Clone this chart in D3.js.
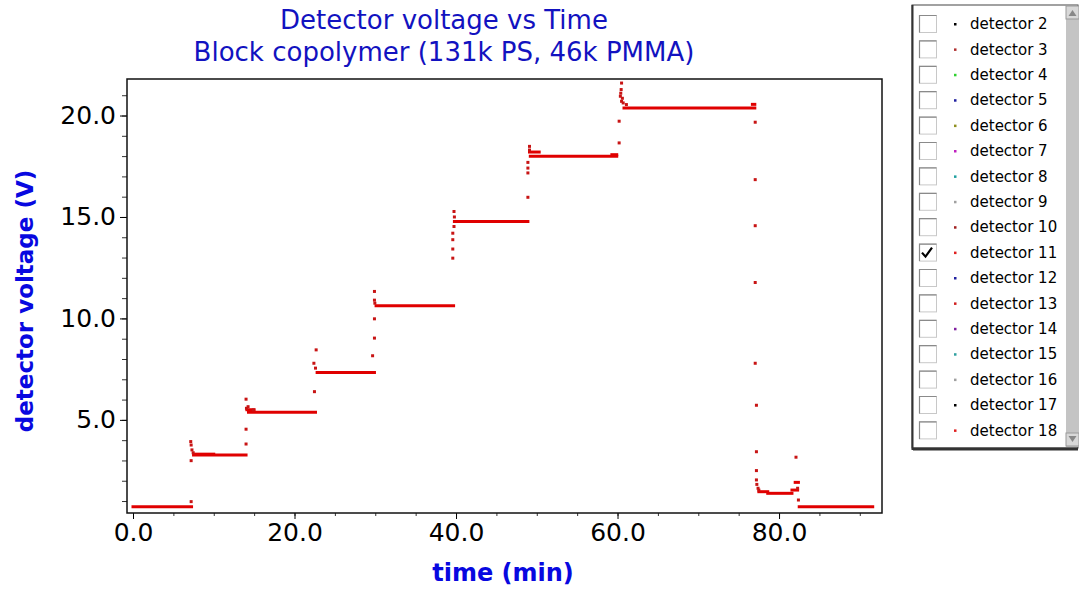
<!DOCTYPE html>
<html>
<head>
<meta charset="utf-8">
<script src="https://cdn.jsdelivr.net/npm/d3@7"></script>
<style>
body { margin: 0; background: #fff; }
svg { display: block; }
</style>
</head>
<body>
<div id="chart"></div>
<script>
// plateaus of detector 11: start time, end time, level (V)
var plateauStart = [0.0, 7.5, 7.6, 14.3, 14.1, 22.8, 30.1, 39.8, 49.2, 49.1, 59.3, 60.8, 76.7, 77.5, 78.6, 81.6, 82.0, 82.5];
var plateauEnd   = [7.25, 14.0, 10.0, 22.6, 15.0, 29.9, 39.7, 48.9, 59.9, 50.3, 59.9, 77.0, 77.0, 78.6, 81.6, 82.3, 82.4, 91.6];
var plateauLevel = [0.72, 3.27, 3.31, 5.38, 5.5, 7.33, 10.62, 14.78, 17.99, 18.2, 18.07, 20.37, 20.55, 1.46, 1.38, 1.54, 1.92, 0.72];

// isolated readings during the transitions
var spikeTime = [7.2, 7.2, 7.15, 7.2, 7.3, 7.45,
  14.0, 14.0, 14.0, 14.05, 14.25, 14.9,
  22.47, 22.4, 22.68, 22.6,
  29.67, 29.9, 29.9, 29.9, 29.9, 29.95,
  39.6, 39.6, 39.6, 39.6, 39.75, 39.75, 39.8,
  48.9, 48.9, 48.9, 48.9, 49.1, 49.1,
  60.2, 60.2, 60.5, 60.45, 60.4, 60.35, 60.5, 60.6, 60.7, 61.1,
  77.05, 77.05, 77.05, 77.05, 77.05, 77.2, 77.2, 77.2, 77.2, 77.25, 77.4, 77.5,
  82.1, 82.3, 82.4];
var spikeVolt = [0.97, 2.99, 3.93, 3.76, 3.52, 3.38,
  3.81, 4.54, 6.02, 5.57, 5.65, 5.49,
  6.39, 7.79, 8.45, 7.55,
  8.16, 9.03, 9.98, 11.33, 10.9, 10.75,
  12.97, 13.42, 13.88, 14.2, 14.53, 15.27, 15.0,
  15.97, 17.17, 17.41, 17.69, 18.48, 18.3,
  18.65, 19.72, 21.6, 21.28, 21.1, 20.95, 20.7, 20.85, 20.62, 20.54,
  19.67, 16.84, 14.57, 11.77, 7.79, 5.72, 3.43, 2.5, 2.04, 1.82, 1.63, 1.54,
  3.16, 1.63, 1.05];

var xTicks = [0, 20, 40, 60, 80];
var yTicks = [5, 10, 15, 20];

var legendNames = ["detector 2", "detector 3", "detector 4", "detector 5", "detector 6", "detector 7",
  "detector 8", "detector 9", "detector 10", "detector 11", "detector 12", "detector 13",
  "detector 14", "detector 15", "detector 16", "detector 17", "detector 18"];
var legendColors = ["#000000", "#b03030", "#30d030", "#2020a0", "#909020", "#c020c0",
  "#20a0a0", "#a0a0a0", "#a02020", "#e02020", "#2020a0", "#d02020",
  "#8020a0", "#30a0a0", "#a0a0a0", "#000000", "#e02020"];
var legendChecked = "detector 11";

var W = 1079, H = 590;
var svg = d3.select("#chart").append("svg").attr("width", W).attr("height", H);

var x = d3.scaleLinear().domain([-0.743, 92.75]).range([127, 882]);
var y = d3.scaleLinear().domain([0.41, 21.8]).range([513, 79]);

// title
var title = svg.append("text")
  .attr("text-anchor", "middle")
  .style("font", "26px 'DejaVu Sans'")
  .attr("fill", "#1212c0");
title.append("tspan").attr("x", 444).attr("y", 29).text("Detector voltage vs Time");
title.append("tspan").attr("x", 444).attr("y", 61).text("Block copolymer (131k PS, 46k PMMA)");

// axes
var xAxis = svg.append("g").attr("transform", "translate(0,513)");
xAxis.call(d3.axisBottom(x).tickValues(d3.range(0, 91, 5)).tickSize(3).tickFormat(""));
xAxis.call(function(g) {
  g.selectAll(".tick line").attr("stroke", "#333");
  g.select(".domain").remove();
});
var xMajor = svg.append("g").attr("transform", "translate(0,513)")
  .call(d3.axisBottom(x).tickValues(xTicks).tickSize(6).tickPadding(4).tickFormat(d3.format(".1f")));
xMajor.select(".domain").remove();
xMajor.selectAll("text").style("font", "25px 'DejaVu Sans'").attr("fill", "#000");

var yAxis = svg.append("g").attr("transform", "translate(127,0)");
yAxis.call(d3.axisLeft(y).tickValues(d3.range(1, 22, 1)).tickSize(5).tickFormat(""));
yAxis.call(function(g) {
  g.selectAll(".tick line").attr("stroke", "#333");
  g.select(".domain").remove();
});
var yMajor = svg.append("g").attr("transform", "translate(127,0)")
  .call(d3.axisLeft(y).tickValues(yTicks).tickSize(7).tickPadding(4).tickFormat(d3.format(".1f")));
yMajor.select(".domain").remove();
yMajor.selectAll("text").style("font", "25px 'DejaVu Sans'").attr("fill", "#000");

// frame
svg.append("rect").attr("x", 127).attr("y", 79).attr("width", 882 - 127).attr("height", 513 - 79)
  .attr("fill", "none").attr("stroke", "#111").attr("stroke-width", 1.5);

// axis titles
svg.append("text")
  .attr("x", 503).attr("y", 581)
  .attr("text-anchor", "middle")
  .style("font", "bold 24px 'DejaVu Sans'")
  .attr("fill", "#0808e0")
  .text("time (min)");
svg.append("text")
  .attr("transform", "translate(33,301) rotate(-90)")
  .attr("text-anchor", "middle")
  .style("font", "bold 23px 'DejaVu Sans'")
  .attr("fill", "#0808e0")
  .text("detector voltage (V)");

// data
var red = "#e00000";
var plot = svg.append("g");
plot.selectAll(".plateau")
  .data(d3.range(plateauStart.length))
  .enter().append("line")
  .attr("class", "plateau")
  .attr("x1", function(i) { return x(plateauStart[i]); })
  .attr("x2", function(i) { return x(plateauEnd[i]); })
  .attr("y1", function(i) { return y(plateauLevel[i]); })
  .attr("y2", function(i) { return y(plateauLevel[i]); })
  .attr("stroke", red)
  .attr("stroke-width", 3)
  .attr("stroke-linecap", "square");
plot.selectAll(".spike")
  .data(d3.range(spikeTime.length))
  .enter().append("rect")
  .attr("class", "spike")
  .attr("x", function(i) { return x(spikeTime[i]) - 1.5; })
  .attr("y", function(i) { return y(spikeVolt[i]) - 1.5; })
  .attr("width", 3)
  .attr("height", 3)
  .attr("fill", "#c81414");

// legend panel
var lg = svg.append("g");
lg.append("rect").attr("x", 912).attr("y", 5).attr("width", 166).attr("height", 443)
  .attr("fill", "#fff").attr("stroke", "#444").attr("stroke-width", 1);
lg.append("line").attr("x1", 913).attr("x2", 1078).attr("y1", 449).attr("y2", 449)
  .attr("stroke", "#333").attr("stroke-width", 3);
lg.append("line").attr("x1", 912.5).attr("x2", 912.5).attr("y1", 5).attr("y2", 450)
  .attr("stroke", "#333").attr("stroke-width", 2);
// scrollbar
lg.append("rect").attr("x", 1066).attr("y", 6).attr("width", 13).attr("height", 441).attr("fill", "#c4c4c4");
lg.append("rect").attr("x", 1066).attr("y", 6).attr("width", 13).attr("height", 13).attr("fill", "#d8d8d8").attr("stroke", "#999");
lg.append("rect").attr("x", 1066).attr("y", 433).attr("width", 13).attr("height", 13).attr("fill", "#d8d8d8").attr("stroke", "#999");
lg.append("path").attr("d", "M1068.5,16 L1072.5,10 L1076.5,16 Z").attr("fill", "#888");
lg.append("path").attr("d", "M1068.5,436 L1072.5,442 L1076.5,436 Z").attr("fill", "#888");

var item = lg.selectAll(".legend")
  .data(legendNames)
  .enter().append("g")
  .attr("class", "legend")
  .attr("transform", function(d, i) { return "translate(0," + (24 + i * 25.4) + ")"; });
item.append("rect").attr("x", 919.5).attr("y", -8.5).attr("width", 17).attr("height", 17)
  .attr("fill", "#fff").attr("stroke", "#c8c8c8");
item.append("path").attr("d", "M919.5,8.5 L919.5,-8.5 L936.5,-8.5")
  .attr("fill", "none").attr("stroke", "#8a8a8a").attr("stroke-width", 1.2);
item.filter(function(d) { return d === legendChecked; })
  .append("path").attr("d", "M922,0 L925.5,4 L932,-5")
  .attr("fill", "none").attr("stroke", "#000").attr("stroke-width", 2.2);
item.append("rect").attr("x", 954).attr("y", -1).attr("width", 2.5).attr("height", 2.5)
  .attr("fill", function(d, i) { return legendColors[i]; });
item.append("text").attr("x", 970).attr("y", 0).attr("dy", "0.35em")
  .style("font", "15px 'DejaVu Sans'").attr("fill", "#000")
  .text(function(d) { return d; });
</script>
</body>
</html>
